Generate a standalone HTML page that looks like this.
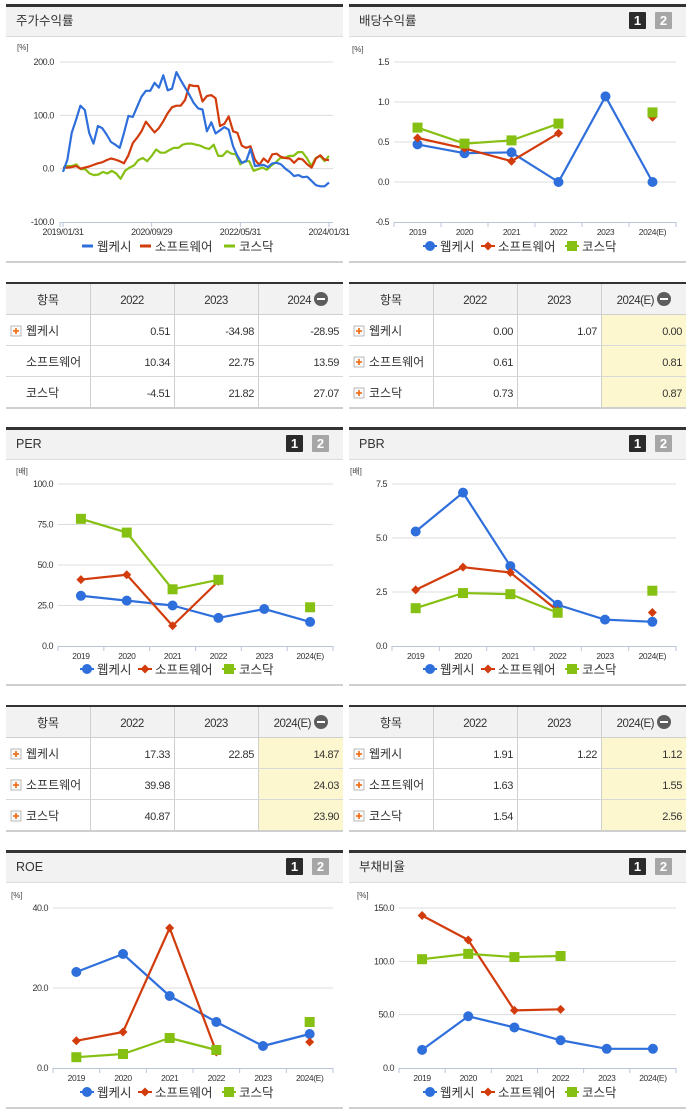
<!DOCTYPE html>
<html><head><meta charset="utf-8">
<style>
html,body{margin:0;padding:0;background:#fff;}
svg{display:block;font-family:"Liberation Sans","Noto Sans CJK KR",sans-serif;}
</style></head>
<body>
<svg id="root" width="691" height="1115" viewBox="0 0 691 1115" xmlns="http://www.w3.org/2000/svg"></svg>
<script>
// ---- data ----
const seriesNames = ["웹케시","소프트웨어","코스닥"];
const colors = ["#2f6fdc","#d23c0c","#86c012"];
const years = ["2019","2020","2021","2022","2023","2024(E)"];

// stock return (monthly, 2019/01 .. 2024/01)
const stockTicks = ["2019/01/31","2020/09/29","2022/05/31","2024/01/31"];
const stockYTicks = [200,100,0,-100];
const stockWebcash = [-6,17,67,92,118,110,67,47,80,76,64,50,45,39,67,99,97,116,135,146,146,161,152,175,147,150,181,166,152,138,123,113,111,70,87,66,72,78,73,42,24,11,14,37,5,6,7,3,10,11,8,0,-6,-14,-12,-16,-15,-23,-31,-33,-33,-26];
const stockSoftware = [2,2,3,5,0,2,4,7,10,12,16,19,17,14,10,25,48,58,70,88,78,68,76,89,104,115,118,118,129,157,155,155,126,136,138,132,80,84,98,70,67,43,39,42,17,7,19,12,27,28,22,20,19,11,19,17,8,2,19,25,17,16];
const stockKosdaq = [2,5,5,8,-1,-1,-9,-12,-11,-6,-9,-4,-9,-19,-4,2,6,16,20,14,24,36,30,30,35,39,39,45,47,47,45,43,39,37,45,24,24,33,28,27,8,14,14,-4,-1,2,-2,6,12,20,20,24,24,31,31,20,5,20,24,14,24];

const divWebcash = [0.47,0.36,0.37,0.00,1.07,0.00];
const divSoftware = [0.55,0.42,0.26,0.61,null,0.81];
const divKosdaq = [0.68,0.48,0.52,0.73,null,0.87];
const divTicks = [1.5,1.0,0.5,0.0,-0.5];

const perWebcash = [31,28,25,17.33,22.85,14.87];
const perSoftware = [41,44,12.5,39.98,null,24.03];
const perKosdaq = [78.5,70,35,40.87,null,23.90];
const perTicks = [100,75,50,25,0];

const pbrWebcash = [5.3,7.1,3.7,1.91,1.22,1.12];
const pbrSoftware = [2.6,3.65,3.4,1.63,null,1.55];
const pbrKosdaq = [1.75,2.45,2.4,1.54,null,2.56];
const pbrTicks = [7.5,5.0,2.5,0.0];

const roeWebcash = [24,28.5,18,11.5,5.5,8.5];
const roeSoftware = [6.8,9,35,4,null,6.5];
const roeKosdaq = [2.7,3.5,7.5,4.5,null,11.5];
const roeTicks = [40,20,0];

const debtWebcash = [17,48.5,38,26,18,18];
const debtSoftware = [143,120,54,55,null,null];
const debtKosdaq = [102,107,104,105,null,null];
const debtTicks = [150,100,50,0];

const tblStockHead = ["2022","2023","2024"];
const tblStock = [["0.51","-34.98","-28.95"],["10.34","22.75","13.59"],["-4.51","21.82","27.07"]];
const tblDivHead = ["2022","2023","2024(E)"];
const tblDiv = [["0.00","1.07","0.00"],["0.61","","0.81"],["0.73","","0.87"]];
const tblPer = [["17.33","22.85","14.87"],["39.98","","24.03"],["40.87","","23.90"]];
const tblPbr = [["1.91","1.22","1.12"],["1.63","","1.55"],["1.54","","2.56"]];

// ---- helpers ----
const NS="http://www.w3.org/2000/svg";
const root=document.getElementById('root');
function el(tag,attrs,parent,text){
  const e=document.createElementNS(NS,tag);
  for(const k in attrs) e.setAttribute(k,attrs[k]);
  if(text!==undefined) e.textContent=text;
  (parent||root).appendChild(e);
  return e;
}
function fmt(v,d){return v.toFixed(d);}

function panel(x,y0,title,badges,name){
  const g=el('g',{},root);
  
  
  el('rect',{x:x,y:y0+4,width:337,height:3,fill:'#333'},g);
  el('rect',{x:x,y:y0+7,width:337,height:29,fill:'#f2f2f2'},g);
  el('rect',{x:x,y:y0+36,width:337,height:1,fill:'#dcdcdc'},g);
  const t=el('text',{x:x+10,y:y0+25,'font-size':'12.5',fill:'#333'},g,title);
  
  
  el('rect',{x:x,y:y0+261,width:337,height:2,fill:'#cfcfcf'},g);
  if(badges){
    const b1=el('g',{},g);
    
    
    el('rect',{x:x+280,y:y0+12,width:17,height:17,rx:1,fill:'#2b2b2b'},b1);
    el('text',{x:x+288.5,y:y0+25,'font-size':'13','font-weight':'bold',fill:'#fff','text-anchor':'middle'},b1,'1');
    const b2=el('g',{},g);
    
    
    el('rect',{x:x+306,y:y0+12,width:17,height:17,rx:1,fill:'#a6a6a6'},b2);
    el('text',{x:x+314.5,y:y0+25,'font-size':'13','font-weight':'bold',fill:'#fff','text-anchor':'middle'},b2,'2');
  }
  return g;
}

function marker(g,i,cx,cy){
  let m;
  if(i===0) m=el('circle',{cx:cx,cy:cy,r:5,fill:colors[0]},g);
  else if(i===1) m=el('path',{d:`M${cx} ${cy-4.5}L${cx+4.5} ${cy}L${cx} ${cy+4.5}L${cx-4.5} ${cy}Z`,fill:colors[1]},g);
  else m=el('rect',{x:cx-5,y:cy-5,width:10,height:10,fill:colors[2]},g);
  return m;
}

function legend(g,x,y,lineStyle,name){
  const lg=el('g',{},g);
  
  
  const offs=[0,58,142];
  seriesNames.forEach((s,i)=>{
    const it=el('g',{},lg);
    
    
    const mx=x+offs[i];
    if(lineStyle){
      el('rect',{x:mx-5,y:y-1.5,width:11,height:3,fill:colors[i]},it);
    } else {
      el('rect',{x:mx-7,y:y-1,width:14,height:2,fill:colors[i]},it);
      marker(it,i,mx,y);
    }
    el('text',{x:mx+10,y:y+5,'font-size':'12.5',fill:'#333'},it,s);
  });
}

// category chart
function catChart(opts){
  const g=el('g',{},root);
  
  
  const {left,right,top,bottom,ticks,series,unit}=opts;
  const vmax=ticks[0], vmin=ticks[ticks.length-1];
  const ys=v=>bottom-(v-vmin)/(vmax-vmin)*(bottom-top);
  const cw=(right-left)/years.length;
  const xs=i=>left+cw*(i+0.5);
  el('text',{x:left-42,y:top-10,'font-size':'8',fill:'#444'},g,unit);
  ticks.forEach((t,k)=>{
    const y=ys(t);
    if(k<ticks.length-1) el('line',{x1:left,x2:right,y1:y,y2:y,stroke:'#dcdcdc','stroke-width':1},g);
    const tl=el('text',{x:left-5,y:y+3,'font-size':'9','text-anchor':'end',fill:'#333','letter-spacing':'-0.5'},g,fmt(t,1));
    
    
  });
  el('line',{x1:left,x2:right,y1:bottom+0.5,y2:bottom+0.5,stroke:'#b9c6d8','stroke-width':1},g);
  for(let i=0;i<=years.length;i++){
    const x=left+cw*i;
    el('line',{x1:x,x2:x,y1:bottom,y2:bottom+5,stroke:'#b9c6d8'},g);
  }
  years.forEach((yr,i)=>{
    const t=el('text',{x:xs(i),y:bottom+13,'font-size':'8.5','text-anchor':'middle',fill:'#333','letter-spacing':'-0.4'},g,yr);
    
    
  });
  series.forEach((arr,si)=>{
    const sg=el('g',{},g);
    
    
    for(let i=0;i<arr.length-1;i++){
      if(arr[i]!==null && arr[i+1]!==null)
        el('line',{x1:xs(i),y1:ys(arr[i]),x2:xs(i+1),y2:ys(arr[i+1]),stroke:colors[si],'stroke-width':2.2},sg);
    }
    arr.forEach((v,i)=>{
      if(v===null) return;
      const m=marker(sg,si,xs(i),ys(v));
      
      
    });
  });
  legend(g,opts.legendX,opts.legendY,false,opts.name);
}

function table(x,y,head,rows,plusAll,highlight,name){
  const g=el('g',{},root);
  
  
  const cols=[x,x+84,x+168,x+252,x+337];
  el('rect',{x:x,y:y+2,width:337,height:30,fill:'#f2f2f2'},g);
  if(highlight){
    el('rect',{x:cols[3],y:y+33,width:85,height:92,fill:'#fdf7cf'},g);
  }
  el('rect',{x:x,y:y,width:337,height:2,fill:'#333'},g);
  el('text',{x:(cols[0]+cols[1])/2,y:y+22,'font-size':'12','text-anchor':'middle',fill:'#333'},g,'항목');
  head.forEach((h,i)=>{
    let cx=(cols[i+1]+cols[i+2])/2;
    let anchor='middle';
    if(i===2){ cx=cols[3]+53; anchor='end'; }
    el('text',{x:cx,y:y+22,'font-size':'11.5','text-anchor':anchor,fill:'#333','letter-spacing':'-0.5'},g,h);
  });
  const cb=el('g',{},g);
  
  
  el('circle',{cx:cols[3]+63,cy:y+17,r:7,fill:'#5d5d5d'},cb);
  el('rect',{x:cols[3]+59,y:y+16,width:8,height:2,fill:'#fff'},cb);
  for(let i=1;i<4;i++) el('rect',{x:cols[i],y:y+2,width:1,height:123,fill:'#cfcfcf'},g);
  el('rect',{x:x,y:y+32,width:337,height:1,fill:'#cfcfcf'},g);
  for(let r=0;r<3;r++){
    const ry=y+33+r*31;
    if(r>0) el('rect',{x:x,y:ry-1,width:337,height:1,fill:'#d8d8d8'},g);
    const row=el('g',{},g);
    
    
    if(plusAll || r===0){
      const pb=el('g',{},row);
      
      
      el('rect',{x:x+5,y:ry+11,width:10,height:10,fill:'#fafafa',stroke:'#aaa','stroke-width':0.8},pb);
      el('rect',{x:x+7,y:ry+15.2,width:6,height:1.6,fill:'#f06a10'},pb);
      el('rect',{x:x+9.2,y:ry+13,width:1.6,height:6,fill:'#f06a10'},pb);
    }
    el('text',{x:x+20,y:ry+20,'font-size':'12',fill:'#333'},row,seriesNames[r]);
    rows[r].forEach((v,i)=>{
      el('text',{x:cols[i+2]-4,y:ry+20,'font-size':'11','text-anchor':'end',fill:'#333','letter-spacing':'-0.4'},row,v);
    });
  }
  el('rect',{x:x,y:y+125,width:337,height:2,fill:'#cfcfcf'},g);
}

// ---- Row 1 ----
const LX=6, RX=349;
panel(LX,0,'주가수익률',false,'stock-return');
panel(RX,0,'배당수익률',true,'dividend-yield');

// stock chart
(function(){
  const g=el('g',{},root);
  
  
  const left=60,right=333,top=62,bottom=222;
  const x0=63,x1=329;
  const ys=v=>bottom-(v-(-100))/300*(bottom-top);
  el('text',{x:17,y:50,'font-size':'8',fill:'#444'},g,'[%]');
  stockYTicks.forEach((t,k)=>{
    const y=ys(t);
    if(k<stockYTicks.length-1) el('line',{x1:left,x2:right,y1:y,y2:y,stroke:'#dcdcdc'},g);
    const tl=el('text',{x:left-6,y:y+3,'font-size':'9','text-anchor':'end',fill:'#333','letter-spacing':'-0.4'},g,fmt(t,1));
    
    
  });
  el('line',{x1:left,x2:right,y1:bottom+0.5,y2:bottom+0.5,stroke:'#b9c6d8'},g);
  stockTicks.forEach((t,i)=>{
    const x=x0+(x1-x0)*i/(stockTicks.length-1);
    el('line',{x1:x,x2:x,y1:bottom,y2:bottom+5,stroke:'#b9c6d8'},g);
    const tl=el('text',{x:x,y:bottom+13,'font-size':'9','text-anchor':'middle',fill:'#333','letter-spacing':'-0.4'},g,t);
    
    
  });
  el('line',{x1:left,x2:left,y1:bottom,y2:bottom+5,stroke:'#b9c6d8'},g);
  [stockKosdaq,stockSoftware,stockWebcash].forEach((arr,k)=>{
    const si=2-k;
    const pts=arr.map((v,i)=>(x0+(x1-x0)*i/(arr.length-1)).toFixed(1)+','+ys(v).toFixed(1)).join(' ');
    const p=el('polyline',{points:pts,fill:'none',stroke:colors[si],'stroke-width':2.2,'stroke-linejoin':'round'},g);
    
    
  });
  legend(g,87,246,true,'stock-return');
})();

catChart({name:'dividend-yield',left:394,right:676,top:62,bottom:222,ticks:divTicks,unit:'[%]',
  series:[divWebcash,divSoftware,divKosdaq],legendX:430,legendY:246});

table(LX,282,tblStockHead,tblStock,false,false,'stock-return');
table(RX,282,tblDivHead,tblDiv,true,true,'dividend-yield');

// ---- Row 2 ----
panel(LX,423,'PER',true,'per');
panel(RX,423,'PBR',true,'pbr');
catChart({name:'per',left:58,right:333,top:484,bottom:646,ticks:perTicks,unit:'[배]',
  series:[perWebcash,perSoftware,perKosdaq],legendX:87,legendY:669});
catChart({name:'pbr',left:392,right:676,top:484,bottom:646,ticks:pbrTicks,unit:'[배]',
  series:[pbrWebcash,pbrSoftware,pbrKosdaq],legendX:430,legendY:669});
table(LX,705,tblDivHead,tblPer,true,true,'per');
table(RX,705,tblDivHead,tblPbr,true,true,'pbr');

// ---- Row 3 ----
panel(LX,846,'ROE',true,'roe');
panel(RX,846,'부채비율',true,'debt-ratio');
catChart({name:'roe',left:53,right:333,top:908,bottom:1068,ticks:roeTicks,unit:'[%]',
  series:[roeWebcash,roeSoftware,roeKosdaq],legendX:87,legendY:1092});
catChart({name:'debt-ratio',left:399,right:676,top:908,bottom:1068,ticks:debtTicks,unit:'[%]',
  series:[debtWebcash,debtSoftware,debtKosdaq],legendX:430,legendY:1092});
</script>
</body></html>
